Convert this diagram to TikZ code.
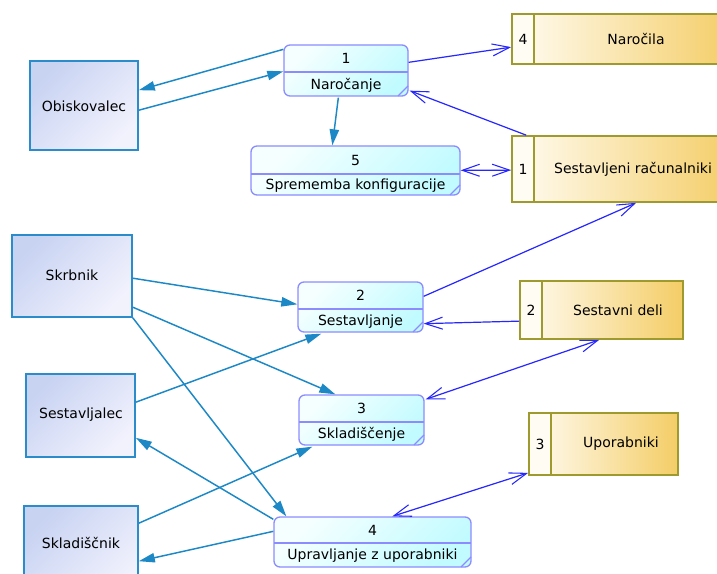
\documentclass[tikz,border=0pt]{standalone}
\usepackage{fontspec}
\setmainfont{DejaVu Sans}
\usetikzlibrary{arrows.meta,fit,calc}
\definecolor{tealline}{HTML}{1C88C6}
\definecolor{entborder}{HTML}{2B8CCB}
\definecolor{entA}{HTML}{C8D3F2}
\definecolor{entB}{HTML}{F2F2FD}
\definecolor{procborder}{HTML}{8C8CFF}
\definecolor{procA}{HTML}{F6FFFF}
\definecolor{procB}{HTML}{C2FBFF}
\definecolor{stborder}{HTML}{9E9A2E}
\definecolor{stA}{HTML}{FFFCF3}
\definecolor{stB}{HTML}{F4CD66}
\definecolor{blueline}{HTML}{2626FF}
\tikzset{
  bb/.tip={Straight Barb[length=13pt,width=9pt,line width=0.8pt]},
  txt/.style={font=\fontsize{10.5}{12}\selectfont, inner sep=0pt},
  ext/.style={draw=entborder, line width=1.2pt, inner sep=0pt, top color=entA, bottom color=entB, shading angle=45},
  procbox/.style={draw=procborder, line width=1pt, inner sep=0pt, rounded corners=4.5pt, top color=procA, bottom color=procB, shading angle=45},
  procline/.style={draw=procborder, line width=0.9pt},
  storebox/.style={draw=stborder, line width=1.3pt, inner sep=0pt, left color=stA, right color=stB},
  storecell/.style={draw=stborder, line width=1.3pt, fill=stA},
  flow/.style={draw=tealline, line width=1.1pt, -{Triangle[length=12pt,width=7pt]}},
  dflow/.style={draw=blueline, line width=0.9pt, -bb},
  dflow2/.style={draw=blueline, line width=0.9pt, bb-bb},
}
\newcommand\mkproc[8]{%
  \node[procbox, fit={(#2,#3) (#4,#5)}] (#1) {};
  \draw[procline] (#2,#6) -- (#4,#6);
  \draw[procline] ({#4-10},#5) -- (#4,{#5-10});
  \node[txt] (#1num) at ({(#2+#4)/2},{(#3+#6)/2}) {#7};
  \node[txt] (#1lab) at ({(#2+#4)/2},{(#6+#5)/2+1}) {#8};
}
\newcommand\mkstore[9]{%
  \node[storebox, fit={(#2,#3) (#4,#5)}] (#1) {};
  \draw[storecell] (#2,#3) rectangle (#6,#5);
  \node[txt] (#1num) at ({(#2+#6)/2},{(#3+#5)/2}) {#7};
  \node[txt] (#1lab) at (#9,{(#3+#5)/2}) {#8};
}
\begin{document}
\begin{tikzpicture}[x=0.75pt,y=-0.75pt]
\useasboundingbox (0,0) rectangle (717,574);
\clip (0,0) rectangle (717,574);
\fill[white] (0,0) rectangle (717,574);

% external entities
\node[ext, fit={(30,61) (138,150)}] (obis) {};
\node[txt] (obislab) at (84,106) {Obiskovalec};
\node[ext, fit={(12,235) (132,317)}] (skrb) {};
\node[txt] (skrblab) at (72,275) {Skrbnik};
\node[ext, fit={(26,374) (135,457)}] (sest) {};
\node[txt] (sestlab) at (81,415) {Sestavljalec};
\node[ext, fit={(24,506) (138,600)}] (sklad) {};
\node[txt] (skladlab) at (81,543) {Skladiščnik};

% processes
\mkproc{p1}{284}{45}{408}{96}{72}{1}{Naročanje}
\mkproc{p5}{251}{146}{460}{195}{174}{5}{Sprememba konfiguracije}
\mkproc{p2}{298}{282}{423}{332}{309}{2}{Sestavljanje}
\mkproc{p3}{299}{395}{424}{445}{422}{3}{Skladiščenje}
\mkproc{p4}{274}{517}{471}{567}{543}{4}{Upravljanje z uporabniki}

% data stores
\mkstore{nar}{512}{14}{735}{64}{534}{4}{Naročila}{636}
\mkstore{sr}{512}{136}{735}{202}{534}{1}{Sestavljeni računalniki}{633}
\mkstore{sd}{520}{281}{683}{339}{542}{2}{Sestavni deli}{618}
\mkstore{up}{529}{413}{678}{475}{551}{3}{Uporabniki}{621}

% teal flows
\draw[flow] ($(p1.north west)+(0,5)$) -- ($(obis.north east)+(0,30)$);
\draw[flow] ($(obis.north east)+(0,50)$) -- ($(p1.north west)+(0,27)$);
\draw[flow] ($(p1.south west)+(55,1)$) -- ($(p5.north west)+(82,0)$);
\draw[flow] ($(skrb.north east)+(0,44)$) -- ($(p2.north west)+(0,23)$);
\draw[flow] ($(skrb.north east)+(0,73)$) -- ($(p3.north west)+(37,0)$);
\draw[flow] (skrb.south east) -- ($(p4.north west)+(13,0)$);
\draw[flow] ($(sest.north east)+(0,29)$) -- ($(p2.south west)+(24,1)$);
\draw[flow] ($(p4.north west)+(0,3)$) -- ($(sest.south east)+(0,-20)$);
\draw[flow] ($(sklad.north east)+(0,18)$) -- ($(p3.south west)+(14,1)$);
\draw[flow] ($(p4.north west)+(0,15)$) -- ($(sklad.north east)+(0,56)$);

% blue data flows
\draw[dflow] ($(p1.north east)+(0,18)$) -- ($(nar.north west)+(0,34)$);
\draw[dflow] ($(sr.north west)+(15,0)$) -- ($(p1.south east)+(1,-6)$);
\draw[dflow2] ($(p5.north east)+(0,25)$) -- ($(sr.north west)+(0,35)$);
\draw[dflow] ($(p2.north east)+(0,15)$) -- ($(sr.south west)+(125,0)$);
\draw[dflow] ($(sd.north west)+(0,41)$) -- ($(p2.south east)+(0,-9)$);
\draw[dflow2] ($(p3.north east)+(1,5)$) -- ($(sd.south west)+(80,0)$);
\draw[dflow2] ($(p4.north west)+(119,0)$) -- ($(up.south west)+(0,-3)$);
\end{tikzpicture}
\end{document}
